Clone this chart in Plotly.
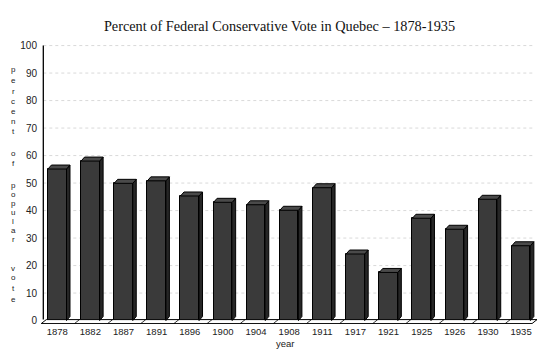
import plotly.graph_objects as go

# ---- data ----
years = ["1878", "1882", "1887", "1891", "1896", "1900", "1904", "1908",
         "1911", "1917", "1921", "1925", "1926", "1930", "1935"]
percent = [55.1, 58.0, 49.9, 50.8, 45.3, 43.0, 42.1, 40.1,
           48.3, 24.2, 17.5, 37.2, 33.2, 44.1, 27.2]
y_ticks = [0, 10, 20, 30, 40, 50, 60, 70, 80, 90, 100]
y_title_words = ["percent", "of", "popular", "vote"]

# ---- layout geometry ----
W, H = 550, 351
L, R, T, B = 40, 12, 45, 27
XR = [-0.52, 14.51]
YR = [-1.25, 100.2]
BW = 0.56      # bar width (category units)
DX = 0.105     # 3d depth offset x
DY = 1.45      # 3d depth offset y

xs = list(range(len(years)))
fig = go.Figure()

# floor
fx0f, fx1f, fyf = -0.483, 14.33, -1.1
fx0b, fx1b, fyb = -0.33, 14.48, 0.35
fig.add_trace(go.Scatter(
    x=[fx0f, fx1f, fx1b, fx0b, fx0f], y=[fyf, fyf, fyb, fyb, fyf],
    mode="lines", fill="toself", fillcolor="white",
    line=dict(color="black", width=1), hoverinfo="skip", showlegend=False))
# floor grid segments
sx, sy = [], []
for i in range(len(years) + 1):
    b = i - 0.5
    if b < fx0f:
        continue
    sx += [b + 0.02, b + 0.02 + (fx0b - fx0f), None]
    sy += [fyf, fyb, None]
fig.add_trace(go.Scatter(x=sx, y=sy, mode="lines",
                         line=dict(color="black", width=0.8),
                         hoverinfo="skip", showlegend=False))

# side faces
px, py = [], []
for x, v in zip(xs, percent):
    x1 = x + BW / 2
    px += [x1, x1, x1 + DX, x1 + DX, x1, None]
    py += [0, v, v + DY, DY, 0, None]
fig.add_trace(go.Scatter(x=px, y=py, mode="lines", fill="toself",
                         fillcolor="#262626", line=dict(color="black", width=1),
                         hoverinfo="skip", showlegend=False))
# top faces
tx, ty = [], []
for x, v in zip(xs, percent):
    x0, x1 = x - BW / 2, x + BW / 2
    tx += [x0, x0 + DX, x1 + DX, x1, x0, None]
    ty += [v, v + DY, v + DY, v, v, None]
fig.add_trace(go.Scatter(x=tx, y=ty, mode="lines", fill="toself",
                         fillcolor="#4a4a4a", line=dict(color="black", width=1),
                         hoverinfo="skip", showlegend=False))
# front faces
fig.add_trace(go.Bar(x=xs, y=percent, width=BW,
                     marker=dict(color="#3a3a3a", line=dict(color="black", width=1)),
                     showlegend=False))

# gridlines & axis line
shapes = []
for t in y_ticks[1:]:
    shapes.append(dict(type="line", xref="x", yref="y", x0=-0.42, x1=14.4,
                       y0=t, y1=t, layer="below",
                       line=dict(color="#cfcfcf", width=0.8, dash="dot")))
shapes.append(dict(type="line", xref="x", yref="y", x0=-0.42, x1=-0.42,
                   y0=fyb, y1=100, line=dict(color="black", width=1.3)))

# vertical stacked y-axis title
pw, ph = W - L - R, H - T - B
def px2paper_x(p):
    return (p - L) / pw
def px2paper_y(p):
    return 1 - (p - T) / ph

letter_rows = [[69, 80, 91, 101, 111, 121, 131],
               [153, 163],
               [185, 194, 203, 212, 221, 230, 239],
               [268, 277, 288, 299]]
ann = []
for word, rows in zip(y_title_words, letter_rows):
    for ch, yy in zip(word, rows):
        ann.append(dict(text=ch, xref="paper", yref="paper",
                        x=px2paper_x(13), y=px2paper_y(yy),
                        xanchor="center", yanchor="middle", showarrow=False,
                        font=dict(family="Liberation Sans", size=8, color="#222")))
ann.append(dict(text="year", xref="paper", yref="paper",
                x=px2paper_x(285), y=px2paper_y(343.5),
                xanchor="center", yanchor="middle", showarrow=False,
                font=dict(family="Liberation Sans", size=9.5, color="#222")))

fig.update_layout(
    width=W, height=H,
    margin=dict(l=L, r=R, t=T, b=B, pad=0),
    paper_bgcolor="white", plot_bgcolor="white",
    title=dict(text="Percent of Federal Conservative Vote in Quebec \u2013 1878-1935",
               x=279.5 / W, xref="container", xanchor="center",
               y=1 - 26 / H, yref="container", yanchor="middle",
               font=dict(family="Liberation Serif", size=14.3, color="#111")),
    xaxis=dict(range=XR, tickmode="array", tickvals=xs, ticktext=years,
               showgrid=False, zeroline=False, showline=False, ticks="",
               tickfont=dict(family="Liberation Sans", size=9.5, color="#222")),
    yaxis=dict(range=YR, tickmode="array", tickvals=y_ticks,
               showgrid=False, zeroline=False, showline=False, ticks="",
               ticklabelstandoff=2,
               tickfont=dict(family="Liberation Sans", size=10, color="#222")),
    shapes=shapes, annotations=ann, bargap=0,
)

fig.write_html("out.html")
